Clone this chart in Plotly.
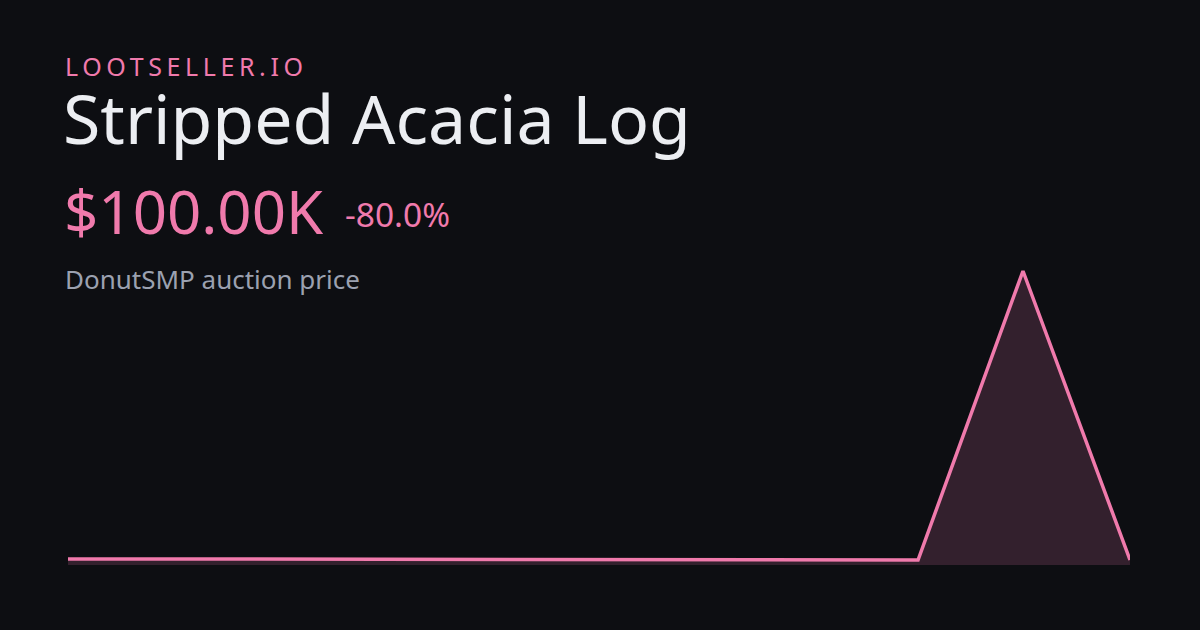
import plotly.graph_objects as go

# Data
times = ["2025-01-01 00:00", "2025-01-02 09:13", "2025-01-09 00:06", "2025-01-09 23:49", "2025-01-11 00:00"]
prices = [101400, 101400, 100000, 500000, 100000]

brand = "LOOTSELLER.IO"
item_name = "Stripped Acacia Log"
price_label = "$100.00K"
change_label = "-80.0%"
subtitle = "DonutSMP auction price"

W, H = 1200, 630
ML, MR, MT, MB = 68, 70, 265, 65
PW, PH = W - ML - MR, H - MT - MB

def px(x):
    return (x - ML) / PW

def py(y):
    return (H - MB - y) / PH

PINK = "#f07aac"
BG = "#0d0e12"

fig = go.Figure()
fig.add_trace(go.Scatter(
    x=times, y=prices, mode="lines",
    line=dict(color=PINK, width=3.5),
    fill="tozeroy", fillcolor="#33202d",
    hoverinfo="skip",
))

per_px = (max(prices) - min(prices)) / 289.0
fig.update_layout(
    width=W, height=H,
    paper_bgcolor=BG, plot_bgcolor=BG,
    margin=dict(l=ML, r=MR, t=MT, b=MB),
    showlegend=False,
    xaxis=dict(visible=False, range=[times[0], times[-1]]),
    yaxis=dict(visible=False, range=[min(prices) - 5 * per_px, max(prices) + 6 * per_px]),
    font=dict(family="Noto Sans"),
)

def ann(text, x, ybase, size, color):
    fig.add_annotation(
        text=text, xref="paper", yref="paper",
        x=px(x), y=py(ybase + size * 0.30), xanchor="left", yanchor="bottom",
        showarrow=False, font=dict(family="Noto Sans", size=size, color=color),
        borderpad=0,
    )

ann('<span style="letter-spacing:4.6px">' + brand + '</span>', 64, 76, 25, PINK)
ann(item_name, 62, 145, 68, "#eceef2")
ann(price_label, 63, 235, 60, PINK)
ann(change_label, 344, 228, 33.5, PINK)
ann(subtitle, 64, 290, 26, "#9ba1b0")

fig.write_html("out.html", config={"displayModeBar": False},
               post_script="document.body.style.margin='0';")
